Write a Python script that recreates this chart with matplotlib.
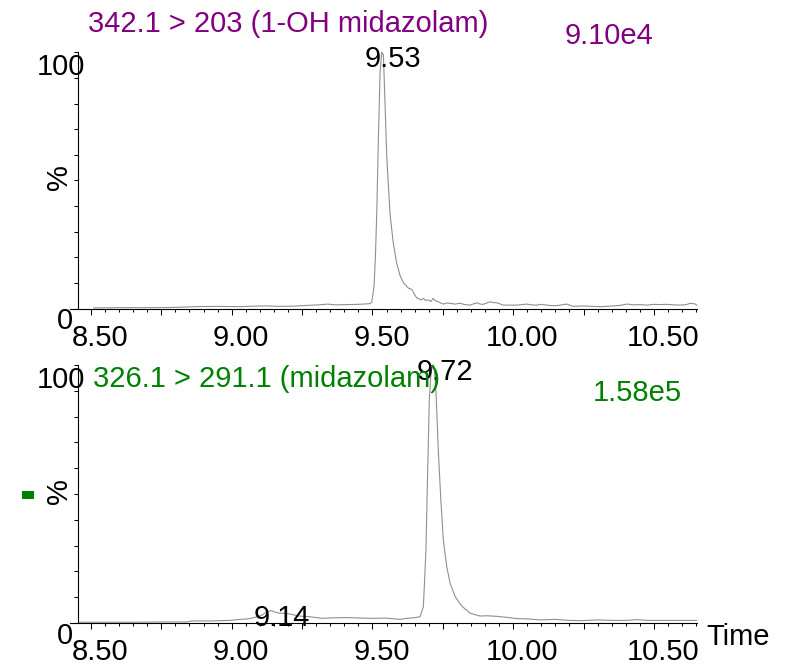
import numpy as np
import matplotlib
matplotlib.use("Agg")
import matplotlib.pyplot as plt
from matplotlib.patches import Rectangle
from matplotlib.ticker import MultipleLocator, NullFormatter
from matplotlib.transforms import ScaledTranslation, blended_transform_factory

plt.rcParams['font.family'] = ['Liberation Sans', 'DejaVu Sans']
plt.rcParams['font.size'] = 21

# ---- chromatogram data (retention time in min, relative intensity in %) ----
time_top = [8.51, 8.60, 8.70, 8.80, 8.87, 8.95, 9.03, 9.08, 9.12, 9.17, 9.22,
            9.27, 9.31, 9.34, 9.37, 9.41, 9.45, 9.484, 9.4915, 9.4975, 9.5057,
            9.5105, 9.5153, 9.521, 9.527, 9.533, 9.539, 9.545, 9.551, 9.5625,
            9.574, 9.586, 9.598, 9.611, 9.628, 9.640, 9.645, 9.657, 9.663,
            9.672, 9.681, 9.690, 9.699, 9.708, 9.716, 9.725, 9.734, 9.743,
            9.752, 9.764, 9.776, 9.793, 9.811, 9.829, 9.847, 9.860, 9.871,
            9.883, 9.894, 9.906, 9.918, 9.930, 9.942, 9.955, 9.965, 9.990,
            10.013, 10.030, 10.048, 10.065, 10.084, 10.100, 10.119, 10.137,
            10.155, 10.172, 10.190, 10.214, 10.230, 10.249, 10.280, 10.309,
            10.330, 10.356, 10.380, 10.404, 10.430, 10.451, 10.475, 10.498,
            10.520, 10.546, 10.570, 10.593, 10.615, 10.629, 10.645, 10.652]
intensity_top = [0.3, 0.4, 0.4, 0.5, 0.8, 0.9, 0.8, 1.0, 1.1, 0.9, 1.0,
                 1.3, 1.5, 1.8, 1.5, 1.6, 1.7, 1.9, 2.0, 2.6, 8.6,
                 20.0, 37.0, 65.5, 92.0, 100.0, 99.0, 79.0, 59.0, 37.0,
                 25.6, 17.8, 13.0, 10.0, 8.0, 7.5, 6.5, 4.2, 4.0,
                 3.4, 4.0, 3.2, 3.4, 2.8, 4.0, 3.0, 2.7, 2.2,
                 1.8, 2.2, 2.1, 1.8, 2.1, 1.6, 1.4, 1.9, 2.3,
                 1.8, 1.7, 2.2, 2.7, 2.4, 2.3, 1.8, 1.4, 1.4,
                 1.4, 1.6, 1.8, 1.5, 1.4, 1.7, 1.4, 1.2,
                 1.2, 1.5, 1.8, 0.9, 1.0, 1.1, 0.9, 0.8,
                 0.9, 1.1, 1.3, 1.8, 1.5, 1.6, 1.4, 1.7,
                 1.6, 1.7, 1.5, 1.4, 1.6, 2.1, 1.9, 1.4]

time_bottom = [8.46, 8.55, 8.65, 8.75, 8.84, 8.86, 8.93, 8.99, 9.03, 9.06,
               9.09, 9.11, 9.125, 9.14, 9.155, 9.17, 9.20, 9.24, 9.28, 9.32,
               9.36, 9.41, 9.46, 9.50, 9.55, 9.598, 9.62, 9.645, 9.669, 9.681,
               9.690, 9.6966, 9.702, 9.708, 9.7129, 9.717, 9.720, 9.726,
               9.734, 9.743, 9.752, 9.764, 9.776, 9.794, 9.817, 9.847, 9.882,
               9.906, 9.94, 9.977, 10.013, 10.05, 10.096, 10.15, 10.20,
               10.238, 10.30, 10.36, 10.40, 10.44, 10.48, 10.55, 10.60, 10.652]
intensity_bottom = [0.3, 0.3, 0.3, 0.4, 0.4, 0.8, 0.8, 1.0, 1.4, 1.6,
                    2.4, 3.2, 4.4, 4.8, 4.2, 3.8, 3.6, 2.7, 2.4, 1.8,
                    2.0, 2.1, 1.9, 1.8, 1.9, 1.4, 1.8, 2.0, 2.4, 6.3,
                    28.0, 60.6, 86.4, 96.8, 99.5, 100.0, 98.7, 89.0,
                    67.0, 47.7, 32.0, 21.8, 15.4, 10.2, 6.6, 3.8, 2.7,
                    2.8, 2.6, 2.2, 1.7, 1.6, 1.2, 1.4, 1.0,
                    0.9, 1.2, 1.0, 1.0, 1.3, 1.0, 1.0, 1.0, 1.0]

peak_labels_top = [9.53]
peak_labels_bottom = [9.14, 9.72]
time_labels = [8.50, 9.00, 9.50, 10.00, 10.50]

title_top = "342.1 > 203 (1-OH midazolam)"
title_bottom = "326.1 > 291.1 (midazolam)"
scale_top = "9.10e4"
scale_bottom = "1.58e5"

PURPLE = "#800080"
GREEN = "#008000"
TRACE = "#8f8f8f"

W, H = 793, 665
fig = plt.figure(figsize=(W / 100, H / 100), dpi=100)

x_min, x_max = 8.454, 10.652


def px(v):
    """pixel length -> inches (for offset transforms)"""
    return v / 100.0


def setup_axes(ax):
    ax.set_xlim(x_min, x_max)
    ax.set_ylim(0, 100)
    for s in ("top", "right"):
        ax.spines[s].set_visible(False)
    for s in ("left", "bottom"):
        ax.spines[s].set_linewidth(0.8)
        ax.spines[s].set_color("black")
    # the time axis line runs a little past the intensity axis
    ax.spines["bottom"].set_bounds(x_min - 8 / 281.4, x_max)
    ax.xaxis.set_major_locator(MultipleLocator(0.25))
    ax.xaxis.set_minor_locator(MultipleLocator(0.05))
    ax.yaxis.set_major_locator(MultipleLocator(10))
    ax.xaxis.set_major_formatter(NullFormatter())
    ax.yaxis.set_major_formatter(NullFormatter())
    ax.tick_params(axis="x", which="major", direction="out", length=4.3,
                   width=0.75, labelbottom=False)
    ax.tick_params(axis="x", which="minor", direction="out", length=2.5,
                   width=0.75)
    ax.tick_params(axis="y", which="major", direction="out", length=2.9,
                   width=0.75, labelleft=False)
    ax.patch.set_visible(False)

    blend = blended_transform_factory(ax.transData, ax.transAxes)
    for t in time_labels:
        ax.text(t, 0, f"{t:.2f}",
                transform=blend + ScaledTranslation(px(9), px(-37), fig.dpi_scale_trans),
                ha="center", va="baseline", clip_on=False)
    ax.text(0, 0, "0",
            transform=ax.transAxes + ScaledTranslation(px(-5), px(-20.5), fig.dpi_scale_trans),
            ha="right", va="baseline")
    ax.text(0, 1, "100",
            transform=ax.transAxes + ScaledTranslation(px(7), px(-22.7), fig.dpi_scale_trans),
            ha="right", va="baseline")
    ax.text(0, 0.5, "%", rotation=90,
            transform=ax.transAxes + ScaledTranslation(px(-19), px(3), fig.dpi_scale_trans),
            ha="center", va="center")


def label_peaks(ax, times, values, labels):
    times = np.asarray(times)
    values = np.asarray(values)
    for lab in labels:
        window = np.abs(times - lab) <= 0.012
        idx = np.flatnonzero(window)[np.argmax(values[window])]
        ax.annotate(f"{lab:.2f}", xy=(times[idx], values[idx]),
                    xytext=(11, -15), textcoords="offset pixels",
                    ha="center", va="baseline", annotation_clip=False)


ax_top = fig.add_axes([78 / W, 1 - 308.7 / H, (696.7 - 78) / W, (308.7 - 52.3) / H])
ax_bot = fig.add_axes([78 / W, 1 - 623 / H, (696.7 - 78) / W, (623 - 365) / H])

for ax in (ax_top, ax_bot):
    setup_axes(ax)

ax_top.plot(time_top, intensity_top, color=TRACE, lw=0.8, clip_on=False)
ax_bot.plot(time_bottom, intensity_bottom, color=TRACE, lw=0.8, clip_on=False)

label_peaks(ax_top, time_top, intensity_top, peak_labels_top)
label_peaks(ax_bot, time_bottom, intensity_bottom, peak_labels_bottom)

# channel titles and full-scale intensities
ax_top.text(0, 1, title_top, color=PURPLE, ha="left", va="baseline",
            transform=ax_top.transAxes + ScaledTranslation(px(10.3), px(20), fig.dpi_scale_trans))
ax_top.text(0, 1, scale_top, color=PURPLE, ha="left", va="baseline",
            transform=ax_top.transAxes + ScaledTranslation(px(487), px(8.3), fig.dpi_scale_trans))
ax_bot.text(0, 1, title_bottom, color=GREEN, ha="left", va="baseline",
            transform=ax_bot.transAxes + ScaledTranslation(px(14.7), px(-22), fig.dpi_scale_trans))
ax_bot.text(0, 1, scale_bottom, color=GREEN, ha="left", va="baseline",
            transform=ax_bot.transAxes + ScaledTranslation(px(514.7), px(-36), fig.dpi_scale_trans))

ax_bot.text(1, 0, "Time", ha="left", va="baseline",
            transform=ax_bot.transAxes + ScaledTranslation(px(10), px(-22), fig.dpi_scale_trans))

# small channel marker
fig.patches.append(Rectangle((22 / W, 1 - 499 / H), 12 / W, 8 / H,
                             transform=fig.transFigure, color=GREEN, lw=0))

fig.savefig("out.png", dpi=100)
